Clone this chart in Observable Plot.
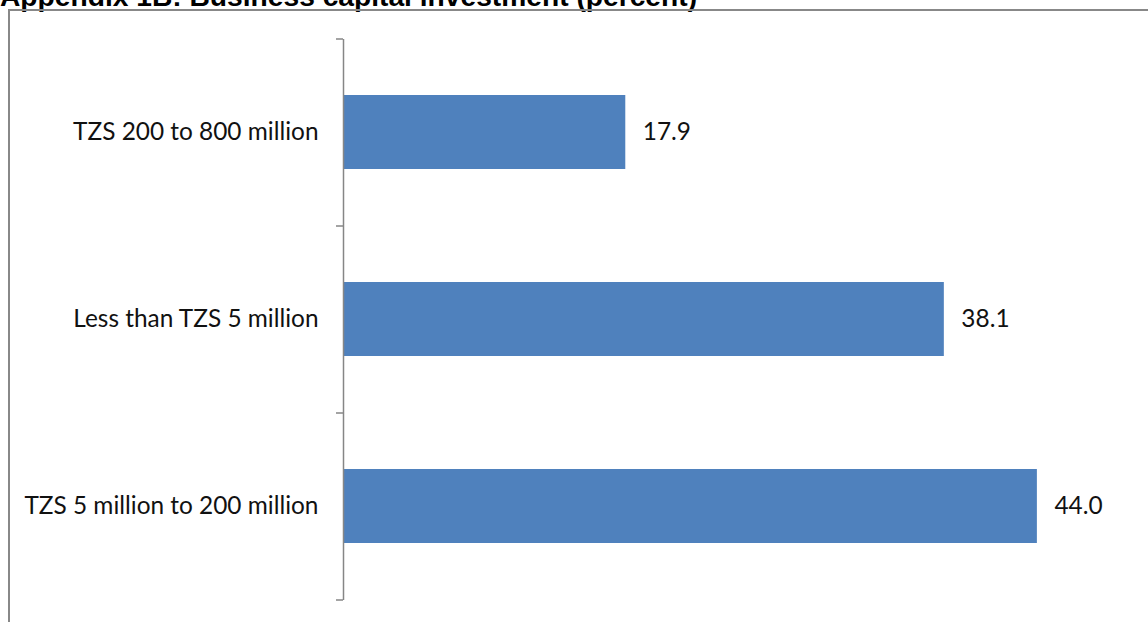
<!DOCTYPE html>
<html>
<head>
<meta charset="utf-8">
<script src="https://cdn.jsdelivr.net/npm/d3@7"></script>
<script src="https://cdn.jsdelivr.net/npm/@observablehq/plot@0.6"></script>
<style>
  html, body { margin: 0; padding: 0; background: #fff; overflow: hidden; width: 1148px; height: 622px; }
  #title { position: absolute; left: 0; top: -18px; font-family: "Liberation Sans", Arial, sans-serif; font-weight: bold; font-size: 28.2px; line-height: 1; white-space: nowrap; color: #000; }
  #frame { position: absolute; left: 8px; top: 9px; width: 1200px; height: 700px; border: 2px solid #888; box-sizing: border-box; }
  #chart { position: absolute; left: 0; top: 0; }
</style>
</head>
<body>
<div id="title">Appendix 1B: Business capital investment (percent)</div>
<div id="frame"></div>
<div id="chart"></div>
<script>
const categories = ["TZS 200 to 800 million", "Less than TZS 5 million", "TZS 5 million to 200 million"];
const values = [17.9, 38.1, 44.0];
const data = categories.map((c, i) => ({category: c, value: values[i]}));

const W = 1148, H = 622;
const mTop = 39, mBottom = 22, mLeft = 343, mRight = 16.5;
const step = (H - mTop - mBottom) / categories.length;
const font = "Lato, 'Open Sans', sans-serif";
const axisColor = "#868686";

const plot = Plot.plot({
  width: W,
  height: H,
  marginTop: mTop,
  marginBottom: mBottom,
  marginLeft: mLeft,
  marginRight: mRight,
  style: {fontFamily: font, background: "transparent", color: "#000"},
  x: {domain: [0, 50], axis: null},
  y: {domain: categories, paddingInner: 0.604, paddingOuter: 0.302, label: null},
  marks: [
    Plot.barX(data, {x: "value", y: "category", fill: "#4F81BD"}),
    Plot.ruleX([0], {stroke: axisColor, strokeWidth: 1.5}),
    Plot.axisY({tickSize: 7, tickFormat: () => "", stroke: axisColor, strokeWidth: 1.5, dy: step / 2}),
    Plot.axisY([categories[0]], {tickSize: 7, tickFormat: () => "", stroke: axisColor, strokeWidth: 1.5, dy: -step / 2}),
    Plot.axisY({tickSize: 0, tickPadding: 25, fontSize: 24.4, fill: "#111", label: null}),
    Plot.text(data, {x: "value", y: "category", text: d => d.value.toFixed(1), textAnchor: "start", dx: 17, fontSize: 24.4, fill: "#111"})
  ]
});
document.getElementById("chart").appendChild(plot);
</script>
</body>
</html>
